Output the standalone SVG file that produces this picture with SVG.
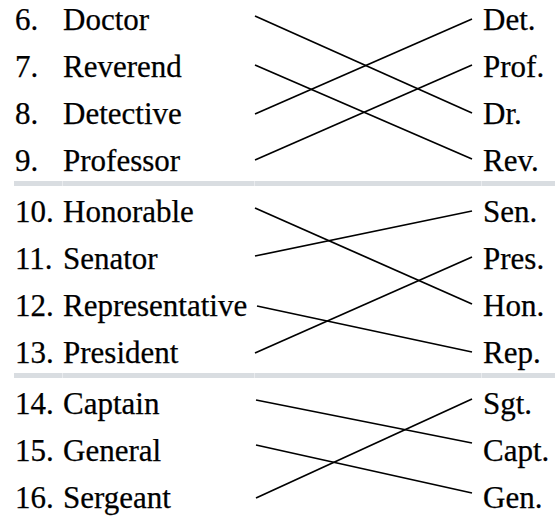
<svg xmlns="http://www.w3.org/2000/svg" width="555" height="519" viewBox="0 0 555 519">
  <style>
    text { font-family: "Liberation Serif", "Times New Roman", serif; font-size: 31px; fill: #000; stroke: #000; stroke-width: 0.25; }
    .conn line { stroke: #000; stroke-width: 1.7; stroke-linecap: butt; }
    .sep { fill: #d9dde1; }
    .gap { fill: #e9ebee; }
  </style>
  <rect width="555" height="519" fill="#ffffff"/>

  <g id="separators">
    <rect class="sep" x="14" y="181" width="541" height="5"/>
    <rect class="gap" x="62" y="181" width="1" height="5"/>
    <rect class="gap" x="254" y="181" width="1" height="5"/>
    <rect class="gap" x="481" y="181" width="1" height="5"/>
    <rect class="sep" x="14" y="373" width="541" height="5"/>
    <rect class="gap" x="62" y="373" width="1" height="5"/>
    <rect class="gap" x="254" y="373" width="1" height="5"/>
    <rect class="gap" x="481" y="373" width="1" height="5"/>
  </g>

  <!-- left column -->
  <g id="doctor"><text x="15" y="30">6.</text><text x="63" y="30">Doctor</text></g>
  <g id="reverend"><text x="15" y="77">7.</text><text x="63" y="77">Reverend</text></g>
  <g id="detective"><text x="15" y="124">8.</text><text x="63" y="124">Detective</text></g>
  <g id="professor"><text x="15" y="171">9.</text><text x="63" y="171">Professor</text></g>
  <g id="honorable"><text x="15" y="222">10.</text><text x="63" y="222">Honorable</text></g>
  <g id="senator"><text x="15" y="269">11.</text><text x="63" y="269">Senator</text></g>
  <g id="representative"><text x="15" y="316">12.</text><text x="63" y="316">Representative</text></g>
  <g id="president"><text x="15" y="363">13.</text><text x="63" y="363">President</text></g>
  <g id="captain"><text x="15" y="414">14.</text><text x="63" y="414">Captain</text></g>
  <g id="general"><text x="15" y="461">15.</text><text x="63" y="461">General</text></g>
  <g id="sergeant"><text x="15" y="508">16.</text><text x="63" y="508">Sergeant</text></g>

  <!-- right column -->
  <g id="det"><text x="483" y="30">Det.</text></g>
  <g id="prof"><text x="483" y="77">Prof.</text></g>
  <g id="dr"><text x="483" y="124">Dr.</text></g>
  <g id="rev"><text x="483" y="171">Rev.</text></g>
  <g id="sen"><text x="483" y="222">Sen.</text></g>
  <g id="pres"><text x="483" y="269">Pres.</text></g>
  <g id="hon"><text x="483" y="316">Hon.</text></g>
  <g id="rep"><text x="483" y="363">Rep.</text></g>
  <g id="sgt"><text x="483" y="414">Sgt.</text></g>
  <g id="capt"><text x="483" y="461">Capt.</text></g>
  <g id="gen"><text x="483" y="508">Gen.</text></g>

  <g id="connectors" class="conn">
    <line x1="255" y1="16" x2="472" y2="113"/>
    <line x1="255" y1="65" x2="472" y2="159"/>
    <line x1="255" y1="114" x2="472" y2="19"/>
    <line x1="255" y1="160" x2="472" y2="65"/>
    <line x1="255" y1="208" x2="472" y2="304"/>
    <line x1="255" y1="256" x2="472" y2="211"/>
    <line x1="257" y1="306" x2="472" y2="352"/>
    <line x1="255" y1="353" x2="472" y2="257"/>
    <line x1="256" y1="400" x2="472" y2="443"/>
    <line x1="256" y1="445" x2="472" y2="493"/>
    <line x1="256" y1="498" x2="472" y2="399"/>
  </g>
</svg>
